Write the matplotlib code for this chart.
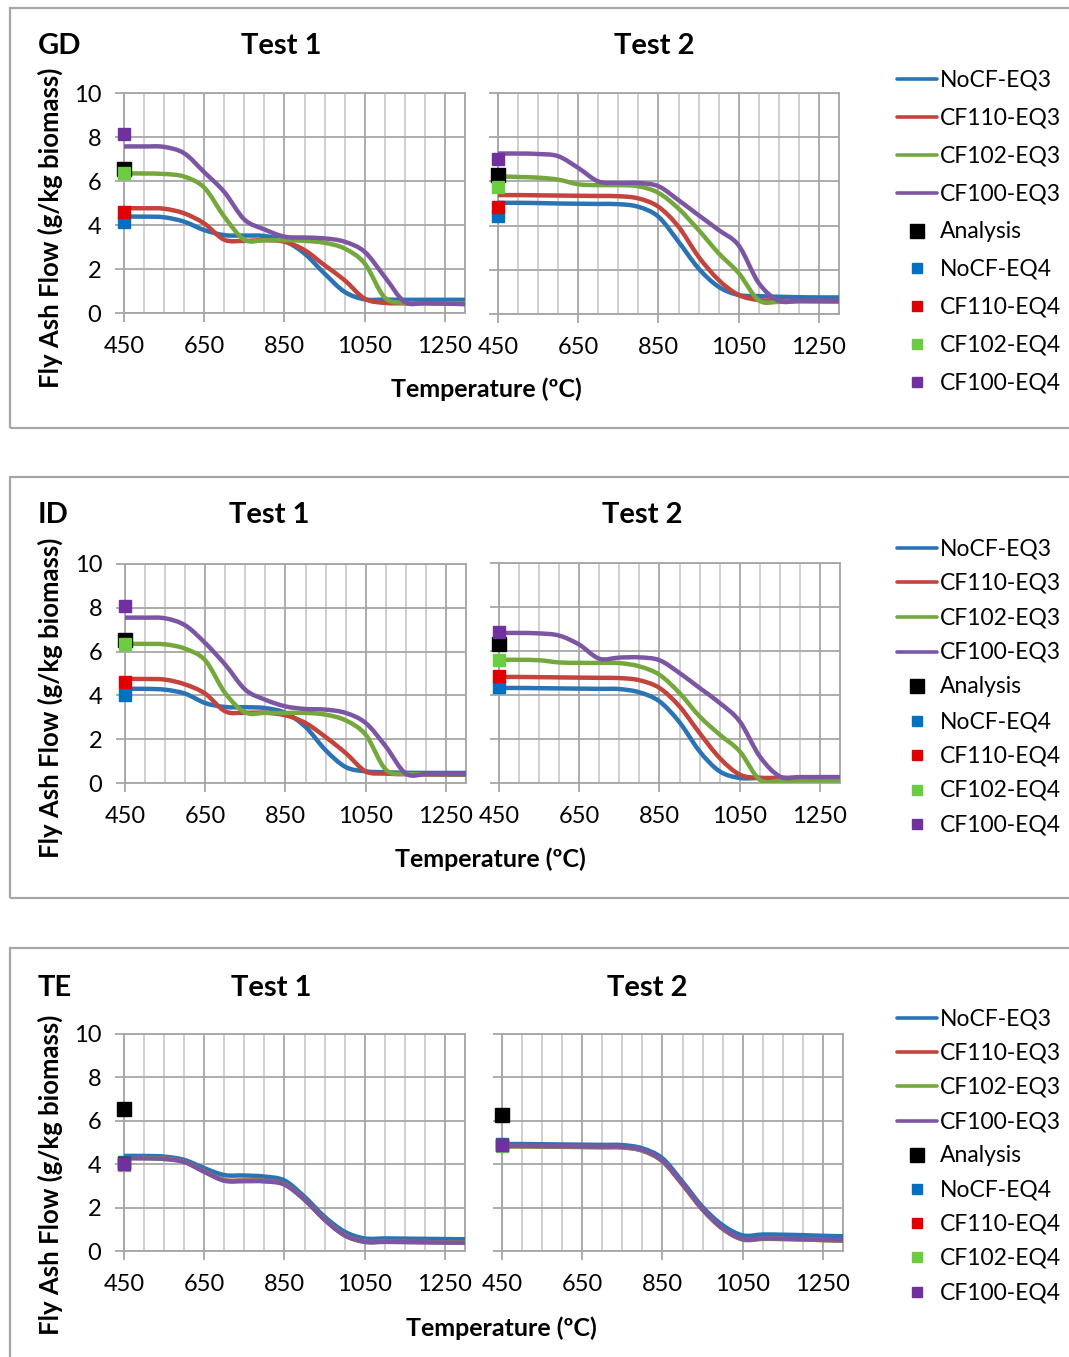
import numpy as np
import matplotlib
matplotlib.use("Agg")
import matplotlib.pyplot as plt
from matplotlib.path import Path
from matplotlib.patches import PathPatch, Rectangle
from matplotlib.lines import Line2D
from matplotlib.ticker import FixedLocator, MultipleLocator

plt.rcParams['font.family'] = ['Lato', 'DejaVu Sans']

# temperature grid (degC)
temps = [450, 500, 550, 600, 650, 700, 750, 800, 850, 900, 950, 1000, 1050, 1100, 1150, 1200, 1250, 1300]

line_names = ['NoCF-EQ3', 'CF110-EQ3', 'CF102-EQ3', 'CF100-EQ3']
point_names = ['Analysis', 'NoCF-EQ4', 'CF110-EQ4', 'CF102-EQ4', 'CF100-EQ4']

# GD, test 1
gd1_nocf = [4.38, 4.38, 4.35, 4.15, 3.77, 3.54, 3.52, 3.50, 3.28, 2.70, 1.79, 0.96, 0.62, 0.61, 0.60, 0.60, 0.60, 0.60]
gd1_cf110 = [4.76, 4.76, 4.74, 4.53, 4.07, 3.33, 3.28, 3.31, 3.24, 2.86, 2.17, 1.49, 0.65, 0.46, 0.44, 0.43, 0.43, 0.42]
gd1_cf102 = [6.35, 6.34, 6.32, 6.20, 5.70, 4.38, 3.33, 3.31, 3.31, 3.28, 3.19, 2.93, 2.25, 0.70, 0.46, 0.44, 0.44, 0.44]
gd1_cf100 = [7.57, 7.57, 7.55, 7.26, 6.40, 5.50, 4.25, 3.80, 3.47, 3.43, 3.39, 3.24, 2.78, 1.64, 0.50, 0.46, 0.43, 0.40]
gd1_points = [6.55, 4.12, 4.60, 6.35, 8.13]

# GD, test 2
gd2_nocf = [5.03, 5.03, 5.02, 5.00, 4.99, 4.98, 4.97, 4.85, 4.40, 3.27, 2.06, 1.23, 0.86, 0.81, 0.78, 0.76, 0.75, 0.75]
gd2_cf110 = [5.38, 5.38, 5.37, 5.36, 5.35, 5.34, 5.33, 5.23, 4.85, 3.95, 2.59, 1.54, 0.86, 0.63, 0.60, 0.58, 0.57, 0.56]
gd2_cf102 = [6.23, 6.20, 6.17, 6.08, 5.87, 5.83, 5.83, 5.78, 5.48, 4.77, 3.80, 2.75, 1.85, 0.62, 0.55, 0.58, 0.58, 0.58]
gd2_cf100 = [7.26, 7.26, 7.24, 7.14, 6.61, 6.00, 5.93, 5.93, 5.78, 5.15, 4.47, 3.80, 3.10, 1.40, 0.60, 0.60, 0.60, 0.60]
gd2_points = [6.30, 4.42, 4.82, 5.75, 7.03]

# ID, test 1
id1_nocf = [4.30, 4.30, 4.26, 4.08, 3.65, 3.47, 3.46, 3.42, 3.20, 2.56, 1.50, 0.73, 0.53, 0.49, 0.47, 0.46, 0.46, 0.46]
id1_cf110 = [4.75, 4.75, 4.72, 4.50, 4.08, 3.27, 3.21, 3.21, 3.09, 2.74, 2.10, 1.37, 0.53, 0.43, 0.40, 0.39, 0.38, 0.38]
id1_cf102 = [6.36, 6.35, 6.33, 6.13, 5.60, 4.10, 3.22, 3.20, 3.20, 3.20, 3.12, 2.86, 2.20, 0.61, 0.42, 0.40, 0.40, 0.40]
id1_cf100 = [7.55, 7.55, 7.52, 7.20, 6.39, 5.40, 4.26, 3.80, 3.50, 3.38, 3.35, 3.20, 2.74, 1.67, 0.43, 0.41, 0.41, 0.41]
id1_points = [6.55, 4.00, 4.60, 6.36, 8.07]

# ID, test 2
id2_nocf = [4.32, 4.32, 4.31, 4.30, 4.29, 4.28, 4.27, 4.12, 3.71, 2.76, 1.44, 0.53, 0.23, 0.23, 0.23, 0.23, 0.23, 0.23]
id2_cf110 = [4.82, 4.82, 4.81, 4.80, 4.79, 4.78, 4.77, 4.67, 4.32, 3.48, 2.27, 1.14, 0.38, 0.23, 0.22, 0.22, 0.22, 0.22]
id2_cf102 = [5.60, 5.60, 5.58, 5.48, 5.46, 5.46, 5.45, 5.30, 4.92, 4.09, 3.03, 2.20, 1.44, 0.15, 0.10, 0.12, 0.12, 0.12]
id2_cf100 = [6.82, 6.82, 6.80, 6.70, 6.29, 5.65, 5.70, 5.71, 5.58, 5.00, 4.32, 3.64, 2.80, 1.21, 0.30, 0.27, 0.27, 0.27]
id2_points = [6.32, 4.36, 4.85, 5.58, 6.85]

# TE, test 1
te1_nocf = [4.38, 4.38, 4.35, 4.20, 3.82, 3.50, 3.48, 3.43, 3.25, 2.50, 1.58, 0.89, 0.58, 0.58, 0.57, 0.56, 0.55, 0.54]
te1_cf110 = [4.30, 4.30, 4.27, 4.12, 3.68, 3.27, 3.25, 3.24, 3.08, 2.38, 1.46, 0.74, 0.44, 0.44, 0.43, 0.42, 0.41, 0.40]
te1_cf102 = [4.28, 4.28, 4.25, 4.11, 3.66, 3.25, 3.23, 3.22, 3.07, 2.37, 1.45, 0.73, 0.43, 0.43, 0.42, 0.41, 0.40, 0.39]
te1_cf100 = [4.27, 4.27, 4.24, 4.10, 3.65, 3.24, 3.22, 3.21, 3.06, 2.36, 1.44, 0.72, 0.42, 0.42, 0.41, 0.40, 0.39, 0.38]
te1_points = [6.54, 4.10, 4.05, 3.98, 4.02]

# TE, test 2
te2_nocf = [4.93, 4.93, 4.92, 4.91, 4.90, 4.89, 4.88, 4.73, 4.27, 3.19, 2.03, 1.19, 0.72, 0.76, 0.75, 0.73, 0.70, 0.68]
te2_cf110 = [4.82, 4.82, 4.81, 4.80, 4.79, 4.78, 4.77, 4.62, 4.13, 3.06, 1.90, 1.02, 0.53, 0.56, 0.55, 0.53, 0.50, 0.48]
te2_cf102 = [4.83, 4.83, 4.82, 4.81, 4.80, 4.79, 4.78, 4.63, 4.14, 3.07, 1.91, 1.03, 0.54, 0.57, 0.56, 0.54, 0.51, 0.49]
te2_cf100 = [4.85, 4.85, 4.84, 4.83, 4.82, 4.81, 4.80, 4.65, 4.16, 3.09, 1.93, 1.05, 0.55, 0.58, 0.57, 0.55, 0.52, 0.50]
te2_points = [6.28, 4.95, 4.88, 4.86, 4.90]

panels = [
    ('GD', [(gd1_nocf, gd1_cf110, gd1_cf102, gd1_cf100), (gd2_nocf, gd2_cf110, gd2_cf102, gd2_cf100)], [gd1_points, gd2_points]),
    ('ID', [(id1_nocf, id1_cf110, id1_cf102, id1_cf100), (id2_nocf, id2_cf110, id2_cf102, id2_cf100)], [id1_points, id2_points]),
    ('TE', [(te1_nocf, te1_cf110, te1_cf102, te1_cf100), (te2_nocf, te2_cf110, te2_cf102, te2_cf100)], [te1_points, te2_points]),
]

line_colors = ['#2a74b5', '#c3433d', '#74a83c', '#7d56a3']
point_colors = ['#000000', '#0070c0', '#e00000', '#6bcc3f', '#7030a0']

# layout in pixels (left, top, right, bottom)
W, H = 1069, 1357
ax_boxes = [[(124, 93, 465, 313), (498, 93, 839, 314)],
            [(125, 564, 466, 783), (499, 563, 840, 783)],
            [(124, 1034, 465, 1251), (502, 1034, 843, 1251)]]
frames = [(8, 428), (477, 898), (948, 1380)]
title_base = [54, 523, 996]
test_x = [(281, 654), (269, 642), (271, 647)]
temp_pos = [(486, 397), (490, 867), (501, 1336)]
ylab_pos = [(50, 228), (50, 698), (50, 1175)]
legend_pos = [(79.3, 37.8), (548, 34.5), (1018, 34.2)]


def fx(px):
    return px / W


def fy(py):
    return 1 - py / H


def smooth(xs, ys):
    # Excel-style smoothed line: Catmull-Rom segments as cubic Beziers
    pts = np.column_stack([xs, ys]).astype(float)
    n = len(pts)
    verts = [pts[0]]
    codes = [Path.MOVETO]
    for i in range(n - 1):
        p0 = pts[max(i - 1, 0)]
        p1 = pts[i]
        p2 = pts[i + 1]
        p3 = pts[min(i + 2, n - 1)]
        verts += [p1 + (p2 - p0) / 6, p2 - (p3 - p1) / 6, p2]
        codes += [Path.CURVE4] * 3
    return Path(verts, codes)


fig = plt.figure(figsize=(W / 100, H / 100), dpi=100)

for k, (tag, tests, points) in enumerate(panels):
    top, bot = frames[k]
    fig.patches.append(Rectangle((fx(10), fy(bot)), 1.2, (bot - top) / H, transform=fig.transFigure,
                                 fill=False, edgecolor='#a6a6a6', lw=1.6, zorder=0))
    for j in range(2):
        l, t, r, b = ax_boxes[k][j]
        ax = fig.add_axes([fx(l), fy(b), (r - l) / W, (b - t) / H])
        ax.set_xlim(450, 1300)
        ax.set_ylim(0, 10)
        ax.xaxis.set_major_locator(FixedLocator([450, 650, 850, 1050, 1250]))
        ax.xaxis.set_minor_locator(MultipleLocator(50))
        ax.yaxis.set_major_locator(MultipleLocator(2))
        ax.grid(which='major', color='#a6a6a6', lw=1.3)
        ax.grid(which='minor', axis='x', color='#cbcbcb', lw=1.3)
        ax.set_axisbelow(True)
        for s in ax.spines.values():
            s.set_color('#a6a6a6')
            s.set_linewidth(1.3)
        ax.tick_params(which='major', length=6.5, width=1.3, color='#a6a6a6', labelsize=17, pad=10)
        ax.tick_params(which='minor', length=0)
        if j == 1:
            ax.tick_params(axis='y', labelleft=False)

        for ys, c in zip(tests[j], line_colors):
            ax.add_patch(PathPatch(smooth(temps, ys), fill=False, edgecolor=c, lw=3.2,
                                   capstyle='butt', joinstyle='round', zorder=3))
        for m, (v, c) in enumerate(zip(points[j], point_colors)):
            ax.plot([temps[0]], [v], 's', color=c, ms=10 if m == 0 else 8.5, mec=c,
                    clip_on=False, zorder=4 + m)

        fig.text(fx(test_x[k][j]), fy(title_base[k]), 'Test %d' % (j + 1), ha='center', va='baseline',
                 fontsize=21, fontweight='bold')

    fig.text(fx(38), fy(title_base[k]), tag, ha='left', va='baseline', fontsize=21, fontweight='bold')
    fig.text(fx(temp_pos[k][0]), fy(temp_pos[k][1]), 'Temperature (\u00baC)', ha='center', va='baseline',
             fontsize=18, fontweight='bold')
    fig.text(fx(ylab_pos[k][0]), fy(ylab_pos[k][1]), 'Fly Ash Flow (g/kg biomass)', ha='center', va='center',
             rotation=90, fontsize=18.5, fontweight='bold')

    # legend
    y0, pitch = legend_pos[k]
    for i, name in enumerate(line_names + point_names):
        y = y0 + i * pitch
        if i < 4:
            fig.add_artist(Line2D([fx(897), fx(937)], [fy(y), fy(y)], color=line_colors[i], lw=2.6,
                                  solid_capstyle='round', transform=fig.transFigure))
        else:
            c = point_colors[i - 4]
            fig.add_artist(Line2D([fx(917)], [fy(y)], marker='s', color=c, mec=c,
                                  ms=10.5 if i == 4 else 7.5, transform=fig.transFigure))
        fig.text(fx(940), fy(y + 7.5), name, ha='left', va='baseline', fontsize=16.5)

fig.savefig('out.png', dpi=100, facecolor='white')
